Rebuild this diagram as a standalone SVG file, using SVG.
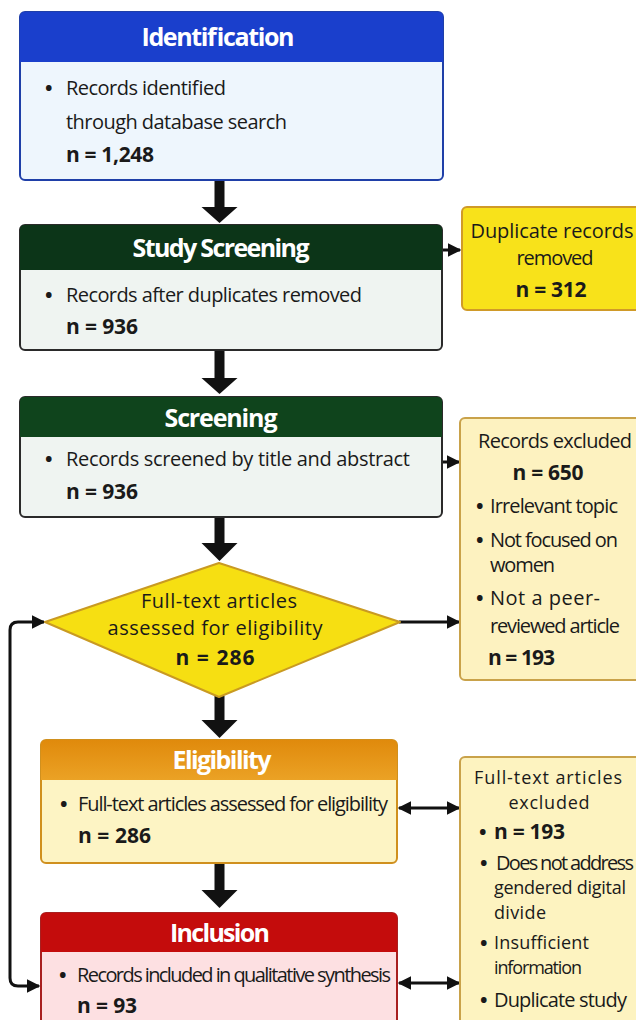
<svg xmlns="http://www.w3.org/2000/svg" width="636" height="1020" viewBox="0 0 636 1020">
<defs>
<marker id="ah" viewBox="0 0 10 10" refX="9" refY="5" markerWidth="4.5" markerHeight="4.5" orient="auto-start-reverse" markerUnits="strokeWidth"><path d="M0 0 L10 5 L0 10 z" fill="#111"/></marker>
<linearGradient id="eg" x1="0" y1="0" x2="0" y2="1"><stop offset="0" stop-color="#e08a0c"/><stop offset="1" stop-color="#eba225"/></linearGradient>
</defs>
<style>
text{font-family:"Open Sans","Noto Sans","Liberation Sans",sans-serif;fill:#1a1a1a;font-size:20px}
.h{font-weight:bold;fill:#fff;font-size:25px;text-anchor:middle}
.b{font-weight:bold;font-size:21px}
.c{text-anchor:middle}
.d{font-weight:bold;font-size:20px}
.s{font-size:18px}
.conn{stroke:#111;stroke-width:3;fill:none}
.big{fill:#111}
</style>
<rect width="636" height="1020" fill="#fff"/>

<g id="connectors">
<path class="big" d="M214.5 180 h10 v27 h13 l-18 16 l-18 -16 h13 z"/>
<path class="big" d="M214.5 350 h10 v28 h13 l-18 16 l-18 -16 h13 z"/>
<path class="big" d="M214.5 517 h10 v26 h13 l-18 18 l-18 -18 h13 z"/>
<path class="big" d="M214.5 696 h10 v24 h13 l-18 18 l-18 -18 h13 z"/>
<path class="big" d="M214.5 863 h10 v27 h13 l-18 18 l-18 -18 h13 z"/>
<line class="conn" x1="443" y1="250" x2="460" y2="250" marker-end="url(#ah)"/>
<line class="conn" x1="443" y1="462" x2="459" y2="462" marker-end="url(#ah)"/>
<line class="conn" x1="399" y1="622" x2="459" y2="622" marker-end="url(#ah)"/>
<line class="conn" x1="399" y1="808" x2="459" y2="808" marker-start="url(#ah)" marker-end="url(#ah)"/>
<line class="conn" x1="399" y1="983" x2="459" y2="983" marker-start="url(#ah)" marker-end="url(#ah)"/>
<path class="conn" d="M44 622 H18 Q10 622 10 630 V978 Q10 986 18 986 H39" marker-start="url(#ah)" marker-end="url(#ah)"/>
</g>

<g id="identification">
<rect x="20" y="12" width="423" height="168" rx="5" fill="#eef6fd" stroke="#1f3fa8" stroke-width="2"/>
<path d="M25 12 H438 Q443 12 443 17 V62 H20 V17 Q20 12 25 12 z" fill="#1a3fcc"/>
<text class="h" x="218" y="46" textLength="153">Identification</text>
<text class="d" x="45" y="95">•</text>
<text x="66" y="95" textLength="160">Records identified</text>
<text x="66" y="129" textLength="221">through database search</text>
<text class="b" x="66" y="162" textLength="88">n = 1,248</text>
</g>

<g id="study-screening">
<rect x="20" y="225" width="422" height="125" rx="5" fill="#eff4f1" stroke="#2a2a2a" stroke-width="2"/>
<path d="M25 225 H437 Q442 225 442 230 V270 H20 V230 Q20 225 25 225 z" fill="#0c3518"/>
<text class="h" x="221" y="257" textLength="177">Study Screening</text>
<text class="d" x="45" y="302">•</text>
<text x="66" y="302" textLength="296">Records after duplicates removed</text>
<text class="b" x="66" y="334" textLength="72">n = 936</text>
</g>

<g id="duplicates">
<rect x="462" y="207" width="180" height="103" rx="5" fill="#f8e21a" stroke="#d09a28" stroke-width="2"/>
<text class="c" x="552" y="238" textLength="163">Duplicate records</text>
<text class="c" x="555" y="265" textLength="77">removed</text>
<text class="b c" x="551" y="297" textLength="71">n = 312</text>
</g>

<g id="screening">
<rect x="20" y="397" width="422" height="120" rx="5" fill="#eff4f1" stroke="#2a2a2a" stroke-width="2"/>
<path d="M25 397 H437 Q442 397 442 402 V437 H20 V402 Q20 397 25 397 z" fill="#0f441c"/>
<text class="h" x="221" y="427" textLength="113">Screening</text>
<text class="d" x="45" y="466">•</text>
<text x="66" y="466" textLength="344">Records screened by title and abstract</text>
<text class="b" x="66" y="499" textLength="72">n = 936</text>
</g>

<g id="records-excluded">
<rect x="460" y="418" width="182" height="262" rx="5" fill="#fdf2c0" stroke="#c9a24a" stroke-width="2"/>
<text class="c" x="555" y="448" textLength="154">Records excluded</text>
<text class="b c" x="548" y="480" textLength="71">n = 650</text>
<text class="d" x="476" y="513">•</text>
<text x="490" y="513" textLength="128">Irrelevant topic</text>
<text class="d" x="476" y="547">•</text>
<text x="490" y="547" textLength="128">Not focused on</text>
<text x="490" y="572" textLength="65">women</text>
<text class="d" x="476" y="605">•</text>
<text x="490" y="605" textLength="110">Not a peer-</text>
<text x="490" y="633" textLength="130">reviewed article</text>
<text class="b" x="488" y="665" textLength="67">n = 193</text>
</g>

<g id="full-text-assessed">
<polygon points="219,563 400,622 219,697 45,622" fill="#f6df12" stroke="#c99a22" stroke-width="2" stroke-linejoin="round"/>
<text class="c" x="219" y="608" textLength="156">Full-text articles</text>
<text class="c" x="215" y="635" textLength="215">assessed for eligibility</text>
<text class="b c" x="215" y="665" textLength="79">n = 286</text>
</g>

<g id="eligibility">
<rect x="41" y="740" width="356" height="123" rx="5" fill="#fdf4c4" stroke="#d0901e" stroke-width="2"/>
<path d="M46 740 H392 Q397 740 397 745 V780 H41 V745 Q41 740 46 740 z" fill="url(#eg)"/>
<text class="h" x="222" y="769" textLength="99">Eligibility</text>
<text class="d" x="60" y="811">•</text>
<text x="78" y="811" textLength="310">Full-text articles assessed for eligibility</text>
<text class="b" x="78" y="843" textLength="73">n = 286</text>
</g>

<g id="full-text-excluded">
<rect x="460" y="757" width="182" height="270" rx="5" fill="#fdf3c0" stroke="#c9a24a" stroke-width="2"/>
<text class="c s" x="548" y="784" textLength="148">Full-text articles</text>
<text class="c s" x="549" y="809" textLength="81">excluded</text>
<text class="d" x="479" y="839">•</text>
<text class="b" x="494" y="839" textLength="71">n = 193</text>
<text class="d" x="480" y="870">•</text>
<text x="496" y="870" textLength="138">Does not address</text>
<text class="s" x="494" y="894" textLength="132">gendered digital</text>
<text class="s" x="494" y="919" textLength="52">divide</text>
<text class="d" x="480" y="950">•</text>
<text class="s" x="494" y="949" textLength="95">Insufficient</text>
<text class="s" x="494" y="974" textLength="88">information</text>
<text class="d" x="480" y="1007">•</text>
<text x="494" y="1007" textLength="133">Duplicate study</text>
</g>

<g id="inclusion">
<rect x="41" y="913" width="356" height="120" rx="5" fill="#fde0e2" stroke="#a82020" stroke-width="2"/>
<path d="M46 913 H392 Q397 913 397 918 V952 H41 V918 Q41 913 46 913 z" fill="#c40c0c"/>
<text class="h" x="220" y="942" textLength="100">Inclusion</text>
<text class="d" x="59" y="982">•</text>
<text x="77" y="982" textLength="314">Records included in qualitative synthesis</text>
<text class="b" x="77" y="1013" textLength="60">n = 93</text>
</g>
</svg>
